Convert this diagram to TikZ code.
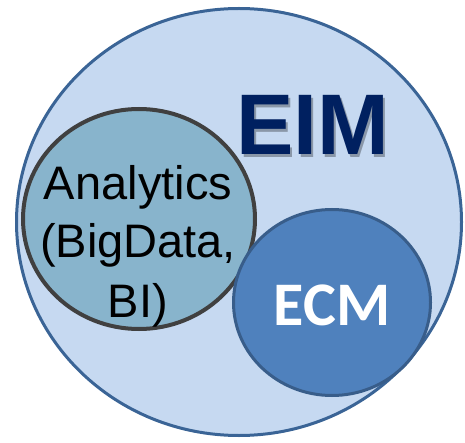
\documentclass[tikz,border=0pt]{standalone}
\usepackage{fontspec}
\setmainfont{Liberation Sans}
\newfontfamily\calib{Carlito}
\definecolor{outerfill}{HTML}{C6D9F1}
\definecolor{outerline}{HTML}{3A6496}
\definecolor{anafill}{HTML}{88B4CC}
\definecolor{analine}{HTML}{404040}
\definecolor{ecmfill}{HTML}{4F81BD}
\definecolor{ecmline}{HTML}{385D8A}
\definecolor{eimcol}{HTML}{002060}
\begin{document}
\begin{tikzpicture}[x=1pt,y=1pt,
  outerstyle/.style={fill=outerfill,draw=outerline,line width=3pt},
  anastyle/.style={fill=anafill,draw=analine,line width=4pt},
  ecmstyle/.style={fill=ecmfill,draw=ecmline,line width=3pt},
  analabel/.style={anchor=base,inner sep=0pt,font=\fontsize{47}{56}\selectfont,text=black},
  eimlabel/.style={anchor=base,inner sep=0pt,font=\fontsize{86}{96}\bfseries\selectfont},
  ecmlabel/.style={anchor=base,inner sep=0pt,font=\calib\fontsize{62}{70}\bfseries\selectfont,text=white}]
\useasboundingbox (0,0) rectangle (465,442);
\fill[white] (0,0) rectangle (465,442);
\draw[outerstyle] (239,220) ellipse [x radius=222.5, y radius=213.5];
\draw[anastyle] (139,223) ellipse [x radius=116, y radius=110];
\draw[ecmstyle] (332,139.5) ellipse [x radius=98.5, y radius=93];
\node[eimlabel,text=black,opacity=0.3] (eimshadow) at (315,284.5) {EIM};
\node[eimlabel,text=eimcol] (eim) at (312.5,287) {EIM};
\node[analabel] (ana1) at (138,242) {Analytics};
\node[analabel] (ana2) at (138,185) {(BigData,};
\node[analabel] (ana3) at (138,125) {BI)};
\node[ecmlabel] (ecm) at (332,117) {ECM};
\end{tikzpicture}
\end{document}
